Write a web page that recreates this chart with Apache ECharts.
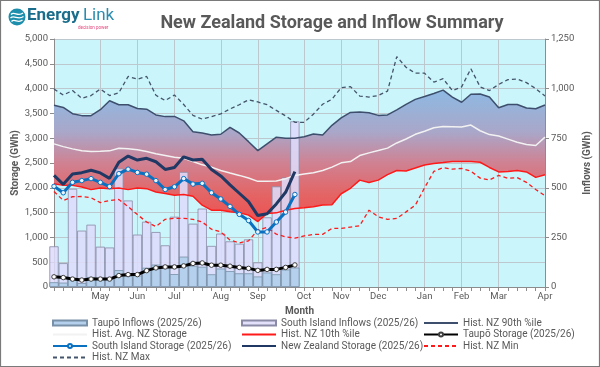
<!DOCTYPE html>
<html><head><meta charset="utf-8">
<script src="https://cdn.jsdelivr.net/npm/echarts@6.0.0/dist/echarts.min.js"></script>
<style>html,body{margin:0;padding:0;background:#fff}#c{width:600px;height:367px}</style>
</head><body><div id="c"></div><script>
// ---- tick labels ----
const monthLabels = ['May','Jun','Jul','Aug','Sep','Oct','Nov','Dec','Jan','Feb','Mar','Apr'];
const monthWeekIndex = [5, 9, 13, 18, 22, 27, 31, 35, 40, 44, 48, 53];
const weekCount = 54;
const leftTicks = [0, 500, 1000, 1500, 2000, 2500, 3000, 3500, 4000, 4500, 5000];
const rightTicks = [0, 250, 500, 750, 1000, 1250];

// ---- historical storage (GWh, weekly) ----
const hist90 = [3665,3620,3495,3455,3455,3575,3755,3675,3675,3600,3585,3470,3435,3440,3350,3130,3105,3065,3080,3220,3105,2930,2750,2885,3020,3000,3000,3030,3085,3065,3260,3410,3520,3530,3515,3460,3470,3572,3683,3783,3840,3900,3970,3830,3725,3885,3890,3830,3615,3680,3680,3610,3595,3670];
const histAvg = [2885,2830,2785,2745,2730,2737,2745,2797,2785,2765,2730,2685,2650,2615,2597,2530,2463,2417,2350,2297,2250,2196,2130,2130,2136,2183,2250,2280,2303,2350,2417,2503,2530,2650,2704,2751,2800,2904,2984,3078,3140,3210,3235,3230,3225,3265,3150,3073,3043,2982,2920,2874,2854,3022];
const hist10 = [2083,2049,2049,2016,1963,1996,1983,1996,1963,1996,1983,1916,1883,1849,1863,1829,1649,1549,1549,1515,1495,1449,1320,1482,1495,1549,1582,1600,1620,1655,1660,1880,1990,2155,2108,2155,2265,2348,2340,2398,2458,2488,2508,2531,2530,2530,2515,2410,2320,2330,2350,2320,2210,2265];
const histMin = [1925,1745,1820,1825,1800,1700,1745,1765,1620,1460,1310,1220,1365,1385,1385,1365,1310,1165,1110,945,890,930,1150,1200,1065,1010,985,1030,1060,1061,1182,1182,1208,1235,1549,1415,1362,1382,1515,1649,2000,2330,2405,2375,2390,2335,2195,2160,2250,2190,2205,2110,1965,1838];
const histMax = [3990,3870,3960,3805,3860,3990,3860,3915,4245,4190,4245,3865,3760,3870,3680,3460,3385,3435,3490,3590,3675,3775,3730,3675,3560,3450,3320,3320,3485,3685,3785,4020,4040,3850,3830,3860,3950,4645,4430,4310,4310,4130,4200,3960,4035,4400,4035,3960,4085,4180,4195,4120,4000,3850];

// ---- 2025/26 season ----
const nzStorage = [2250,2070,2280,2305,2355,2300,2190,2515,2640,2560,2595,2525,2370,2410,2625,2560,2575,2370,2240,2060,1890,1720,1440,1475,1675,1910,2325];
const siStorage = [2030,1900,2110,2145,2185,2110,2025,2285,2375,2310,2275,2145,1965,2020,2185,2075,2090,1900,1775,1625,1465,1340,1110,1110,1310,1510,1865];
const taupoStorage = [205,190,160,140,160,160,160,230,250,250,330,385,405,405,425,475,485,440,440,420,395,375,335,355,355,395,445];
const siInflows = [205,120,495,284,314,203,199,598,436,264,329,277,210,354,580,319,395,207,269,230,218,240,124,351,507,552,835];
const taupoInflows = [24,22,45,20,50,46,45,85,55,58,97,113,107,65,153,107,102,64,93,80,69,69,53,73,64,88,98];

// ---- derived structures for the library ----
const weeks = Array.from({length: weekCount}, (_, i) => 'W' + i);
const labelAt = {};
monthWeekIndex.forEach((w, k) => { labelAt[w] = monthLabels[k]; });
const bandHeight = hist90.map((v, i) => v - hist10[i]);
const fmt = v => Number(v).toLocaleString('en-US');

const GREY = '#595959';
const FONT = 'Roboto';
const NARROW = "'Liberation Sans Narrow', Roboto";
const chart = echarts.init(document.getElementById('c'), null, {renderer: 'canvas'});

const bandGradient = new echarts.graphic.LinearGradient(0, 0, 0, 1, [
  {offset: 0, color: '#8db9e3'},
  {offset: 0.32, color: '#a9a7c9'},
  {offset: 0.55, color: '#cf8293'},
  {offset: 0.8, color: '#e46464'},
  {offset: 1, color: '#ee5050'}
]);

const noSym = name => ({name: name, itemStyle: {opacity: 0}});
const barItem = name => ({name: name, icon: 'rect'});
const legendText = {color: GREY, fontSize: 10, fontFamily: NARROW};
const legendBase = {orient: 'vertical', top: 318, padding: 0, itemGap: 1.5, itemWidth: 34, itemHeight: 5, textStyle: legendText, selectedMode: false};

chart.setOption({
  animation: false,
  backgroundColor: '#ffffff',
  title: {
    text: 'New Zealand Storage and Inflow Summary',
    left: 327, top: 9, textAlign: 'center',
    textStyle: {fontFamily: NARROW, fontWeight: 'bold', fontSize: 18, color: GREY}
  },
  grid: {left: 54, right: 55, top: 39, bottom: 80, show: true, backgroundColor: '#c9f5fb', borderWidth: 0, outerBoundsMode: 'none'},
  legend: [
    Object.assign({}, legendBase, {left: 52, data: [barItem('Taupō Inflows (2025/26)'), noSym('Hist. Avg. NZ Storage'), 'South Island Storage (2025/26)', noSym('Hist. NZ Max')]}),
    Object.assign({}, legendBase, {left: 241, data: [barItem('South Island Inflows (2025/26)'), noSym('Hist. NZ 10th %ile'), noSym('New Zealand Storage (2025/26)')]}),
    Object.assign({}, legendBase, {left: 423, data: [noSym('Hist. NZ 90th %ile'), 'Taupō Storage (2025/26)', noSym('Hist. NZ Min')]})
  ],
  xAxis: {
    type: 'category', data: weeks, boundaryGap: false,
    name: 'Month', nameLocation: 'middle', nameGap: 19, nameMoveOverlap: false,
    nameTextStyle: {fontWeight: 'bold', fontSize: 10, color: GREY, fontFamily: FONT},
    axisLine: {lineStyle: {color: '#8c8c8c'}},
    axisTick: {show: true, interval: 0, length: 4, lineStyle: {color: '#8c8c8c'}},
    axisLabel: {interval: (i) => labelAt[i] !== undefined, formatter: (v, i) => labelAt[i] || '', color: GREY, fontSize: 9.5, fontFamily: FONT, margin: 5},
    splitLine: {show: true, interval: (i) => labelAt[i] !== undefined, lineStyle: {color: '#bcc8ce', width: 1}}
  },
  yAxis: [
    {
      type: 'value', min: leftTicks[0], max: leftTicks[leftTicks.length - 1], interval: 500,
      name: 'Storage (GWh)', nameLocation: 'middle', nameGap: 34, nameMoveOverlap: false,
      nameTextStyle: {fontWeight: 'bold', fontSize: 10, color: GREY, fontFamily: FONT},
      axisLine: {show: true, lineStyle: {color: '#8c8c8c'}},
      axisTick: {show: true, length: 4, lineStyle: {color: '#8c8c8c'}},
      axisLabel: {formatter: fmt, color: GREY, fontSize: 9.5, fontFamily: FONT, margin: 6},
      splitLine: {show: true, lineStyle: {color: '#bcc8ce', width: 1}}
    },
    {
      type: 'value', position: 'right', min: rightTicks[0], max: rightTicks[rightTicks.length - 1], interval: 250,
      name: 'Inflows (GWh)', nameLocation: 'middle', nameGap: 37, nameRotate: 90, nameMoveOverlap: false,
      nameTextStyle: {fontWeight: 'bold', fontSize: 10, color: GREY, fontFamily: FONT},
      axisLine: {show: true, lineStyle: {color: '#8c8c8c'}},
      axisTick: {show: true, length: 4, lineStyle: {color: '#8c8c8c'}},
      axisLabel: {formatter: fmt, color: GREY, fontSize: 9.5, fontFamily: FONT, margin: 6},
      splitLine: {show: false}
    }
  ],
  series: [
    {name: 'bandBase', type: 'line', stack: 'band', data: hist10, symbol: 'none', lineStyle: {opacity: 0}, silent: true, z: 1},
    {name: 'bandFill', type: 'line', stack: 'band', data: bandHeight, symbol: 'none', lineStyle: {opacity: 0}, areaStyle: {color: bandGradient, opacity: 1}, silent: true, z: 1},
    {name: 'South Island Inflows (2025/26)', type: 'bar', yAxisIndex: 1, data: siInflows, barWidth: '100%', barGap: '-100%', clip: true,
      itemStyle: {color: 'rgba(222,220,250,0.88)', borderColor: '#8a8aa6', borderWidth: 0.8}, z: 2},
    {name: 'Taupō Inflows (2025/26)', type: 'bar', yAxisIndex: 1, data: taupoInflows, barWidth: '100%', barGap: '-100%', clip: true,
      itemStyle: {color: '#b4d0ec', borderColor: '#7890a8', borderWidth: 0.8}, z: 2},
    {name: 'Hist. NZ Max', type: 'line', data: histMax, symbol: 'none', lineStyle: {color: '#44546a', width: 1.3, type: [4, 3]}, itemStyle: {color: '#44546a'}, z: 3},
    {name: 'Hist. NZ 90th %ile', type: 'line', data: hist90, symbol: 'none', lineStyle: {color: '#3d4f6c', width: 1.5}, itemStyle: {color: '#3d4f6c'}, z: 3},
    {name: 'Hist. Avg. NZ Storage', type: 'line', data: histAvg, symbol: 'none', lineStyle: {color: '#f2f2f2', width: 1.5}, itemStyle: {color: '#f2f2f2'}, z: 3},
    {name: 'Hist. NZ 10th %ile', type: 'line', data: hist10, symbol: 'none', lineStyle: {color: '#ff1a1a', width: 1.5}, itemStyle: {color: '#ff1a1a'}, z: 3},
    {name: 'Hist. NZ Min', type: 'line', data: histMin, symbol: 'none', lineStyle: {color: '#ff1a1a', width: 1.3, type: [4, 3]}, itemStyle: {color: '#ff1a1a'}, z: 3},
    {name: 'Taupō Storage (2025/26)', type: 'line', data: taupoStorage, symbol: 'circle', symbolSize: 4.5, showSymbol: true,
      lineStyle: {color: '#000000', width: 3}, itemStyle: {color: '#ffffff', borderColor: '#404040', borderWidth: 1}, z: 4},
    {name: 'New Zealand Storage (2025/26)', type: 'line', data: nzStorage, symbol: 'none', lineStyle: {color: '#1f3864', width: 3}, itemStyle: {color: '#1f3864'}, z: 4},
    {name: 'South Island Storage (2025/26)', type: 'line', data: siStorage, symbol: 'circle', symbolSize: 4.5, showSymbol: true,
      lineStyle: {color: '#0a70c0', width: 3}, itemStyle: {color: '#eaf4ff', borderColor: '#0a70c0', borderWidth: 1}, z: 4}
  ],
  graphic: [
    {type: 'rect', shape: {x: 0.5, y: 0.5, width: 599, height: 366}, style: {fill: 'none', stroke: '#7a7a7a', lineWidth: 1.2}, silent: true, z: 100},
    {type: 'circle', shape: {cx: 17, cy: 17, r: 8.5}, style: {fill: '#1d8fad'}, silent: true},
    {type: 'bezierCurve', shape: {x1: 11, y1: 14.5, cpx1: 14, cpy1: 11, cpx2: 18, cpy2: 17, x2: 23, y2: 13}, style: {stroke: '#fff', lineWidth: 1.3, fill: null}, silent: true},
    {type: 'bezierCurve', shape: {x1: 10.5, y1: 18, cpx1: 14, cpy1: 14.5, cpx2: 18, cpy2: 20.5, x2: 23.5, y2: 16.5}, style: {stroke: '#fff', lineWidth: 1.3, fill: null}, silent: true},
    {type: 'bezierCurve', shape: {x1: 11.5, y1: 21.5, cpx1: 14.5, cpy1: 18, cpx2: 18, cpy2: 24, x2: 22.5, y2: 20}, style: {stroke: '#fff', lineWidth: 1.3, fill: null}, silent: true},
    {type: 'text', x: 27, y: 7, silent: true,
      style: {text: '{a|Energy} {b|Link}', rich: {
        a: {fontSize: 17, fontWeight: 'bold', fill: '#1a6e8b', fontFamily: NARROW},
        b: {fontSize: 17, fontWeight: 'normal', fill: '#2a8db0', fontFamily: NARROW}
      }}},
    {type: 'text', x: 78, y: 25, silent: true, style: {text: 'decision power', fontSize: 4.5, fill: '#e5467a', fontFamily: FONT}}
  ]
});
</script></body></html>
